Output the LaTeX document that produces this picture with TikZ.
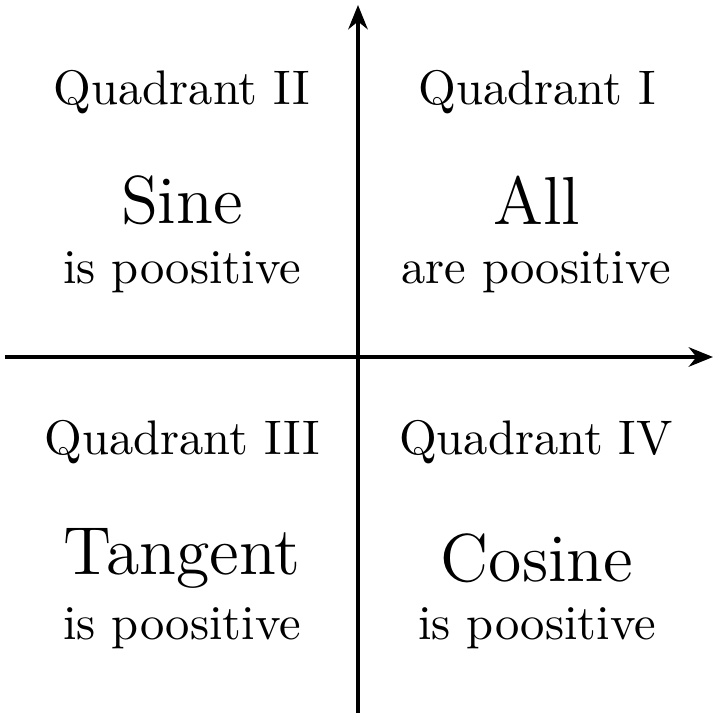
\documentclass[tikz,border=0pt]{standalone}
\usetikzlibrary{arrows.meta}
\begin{document}
\begin{tikzpicture}[x=0.2061pt,y=0.2061pt,
  axis/.style={line width=0.8pt,-{Stealth[length=5pt,width=4pt,inset=1.6pt]}},
  qlabel/.style={inner sep=0pt,font=\normalsize},
  big/.style={inner sep=0pt,font=\fontsize{14}{17}\selectfont},
  small/.style={inner sep=0pt,font=\normalsize}]
\useasboundingbox (-358,-360) rectangle (359,357);
\coordinate (xl) at (-353,0);
\coordinate (xr) at (355,0);
\coordinate (yb) at (0,-356);
\coordinate (yt) at (0,352);
\draw[axis] (xl) -- (xr);
\draw[axis] (yb) -- (yt);
\node[qlabel] (q2) at (-176,265) {Quadrant II};
\node[big] (s2) at (-176,157) {Sine};
\node[small] (p2) at (-176,85) {is poositive};
\node[qlabel] (q1) at (179,265) {Quadrant I};
\node[big] (s1) at (179,157) {All};
\node[small] (p1) at (178,85) {are poositive};
\node[qlabel] (q3) at (-176,-85) {Quadrant III};
\node[big] (s3) at (-176,-201) {Tangent};
\node[small] (p3) at (-176,-271) {is poositive};
\node[qlabel] (q4) at (178,-85) {Quadrant IV};
\node[big] (s4) at (179,-201) {Cosine};
\node[small] (p4) at (179,-271) {is poositive};
\end{tikzpicture}
\end{document}
